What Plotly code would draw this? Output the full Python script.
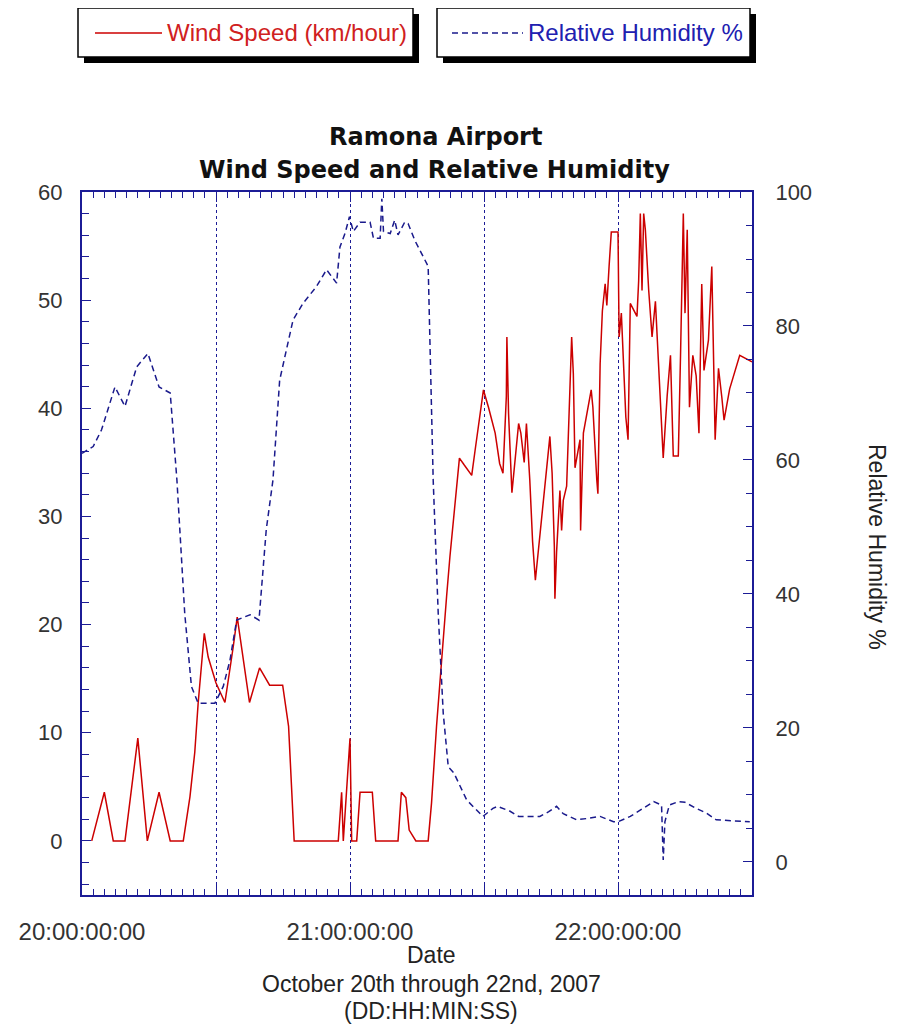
import plotly.graph_objects as go

# ---------------- data ----------------
# hours since 2007-10-20 00:00
wind_hours = [0.87, 2.0, 2.8, 3.85, 5.0, 5.85, 6.9, 7.9, 9.07, 9.67, 10.1, 10.4, 10.95, 11.3,
              12.0, 12.8, 13.55, 13.9, 15.0, 15.9, 16.8, 17.97, 18.5, 19.0, 22.95, 23.25,
              23.4, 23.85, 24.0, 24.15, 24.6, 24.9, 26.0, 26.3, 28.3, 28.6, 29.0, 29.3,
              29.9, 31.0, 31.3, 31.75, 32.05, 32.35, 32.65, 32.95, 33.4, 33.8, 34.2, 34.9,
              35.2, 35.95, 36.4, 37.0, 37.4, 37.7, 38.0, 38.05, 38.2, 38.5, 39.1, 39.3,
              39.6, 39.8, 40.1, 40.35, 40.6, 40.95, 41.4, 41.55, 41.9, 42.1, 42.3, 42.35,
              42.5, 42.8, 42.95, 43.1, 43.4, 43.85, 44.0, 44.15, 44.6, 44.65, 44.9, 45.6,
              45.75, 46.1, 46.2, 46.4, 46.6, 46.85, 47.0, 47.2, 47.4, 48.0, 48.1, 48.3,
              48.7, 48.9, 49.1, 49.7, 49.85, 50.0, 50.15, 50.3, 50.45, 50.75, 51.05, 51.35,
              51.6, 52.05, 52.4, 52.7, 52.95, 53.4, 53.6, 53.85, 54.0, 54.2, 54.4, 54.7,
              55.0, 55.25, 55.5, 55.7, 56.1, 56.4, 56.7, 57.0, 57.3, 57.5, 58.0, 58.9, 60.0]
wind_speed = [0, 4.5, 0, 0, 9.5, 0, 4.5, 0, 0, 4.1, 8.2, 12.7, 19.2, 17.0,
              14.6, 12.8, 18.0, 20.7, 12.8, 16.0, 14.4, 14.4, 10.6, 0, 0, 4.5,
              0, 7.8, 9.5, 0, 0, 4.5, 4.5, 0, 0, 4.5, 4.0, 1.0,
              0, 0, 3.5, 10.6, 14.9, 19.2, 22.6, 26.3, 30.9, 35.4, 34.8, 33.8,
              36.1, 41.7, 40.1, 37.7, 34.9, 34.0, 41.1, 46.6, 39.5, 32.2, 38.6, 37.7,
              35.0, 38.6, 33.4, 27.7, 24.1, 27.8, 32.1, 34.0, 37.4, 34.0, 27.2, 22.4,
              26.7, 32.4, 28.7, 31.5, 32.8, 46.6, 43.2, 34.5, 37.1, 28.7, 37.7, 41.7,
              40.1, 33.4, 32.1, 44.1, 49.0, 51.5, 49.5, 53.1, 56.3, 56.3, 46.6, 48.8,
              39.2, 37.1, 49.7, 48.5, 51.8, 58.0, 50.9, 58.0, 56.5, 50.9, 46.6, 49.9,
              44.3, 35.4, 41.1, 44.9, 35.6, 35.6, 44.9, 58.0, 48.8, 56.5, 40.1, 44.9,
              43.0, 37.7, 51.5, 43.5, 46.3, 53.1, 37.1, 43.7, 41.0, 38.9, 41.8, 44.9, 44.3]

rh_hours = [0, 1.0, 1.75, 2.95, 3.85, 4.9, 5.9, 6.9, 7.9, 8.5, 9.2, 9.8, 10.4, 11.9,
            12.65, 13.25, 13.85, 15.05, 15.85, 16.5, 17.1, 17.7, 18.9, 19.8, 21.0, 21.9,
            22.8, 23.1, 23.55, 23.95, 24.3, 24.9, 25.8, 26.1, 26.7, 26.85, 27.0, 27.6,
            28.0, 28.3, 28.9, 29.2, 29.8, 30.7, 31.0, 31.45, 31.9, 32.35, 32.8, 33.3,
            34.45, 35.9, 36.8, 37.2, 38.3, 39.1, 41.0, 41.8, 42.5, 43.1, 44.3, 45.3,
            46.4, 47.6, 48.0, 49.1, 50.1, 51.2, 51.9, 52.05, 52.2, 52.6, 53.4, 54.0,
            55.0, 55.9, 56.8, 59.8]
rh_values = [61, 62, 64.5, 70.9, 68.0, 73.9, 75.9, 70.9, 70.0, 57, 37.1, 26.2, 23.7, 23.7,
             26.2, 30.1, 36.1, 36.9, 36.1, 49.6, 57.0, 71.9, 80.9, 83.4, 85.9, 88.4,
             86.4, 91.8, 93.8, 96.3, 94.1, 95.5, 95.5, 93.1, 93.1, 99.0, 94.1, 93.8,
             95.8, 93.6, 95.5, 95.3, 92.8, 89.9, 88.9, 57, 37.1, 22.2, 14.2, 13.3,
             9.25, 6.8, 8.0, 8.3, 7.6, 6.8, 6.8, 7.5, 8.3, 7.2, 6.3, 6.5,
             6.8, 6.0, 6.0, 6.8, 7.8, 9.0, 8.5, 0.3, 6.0, 8.5, 9.0, 8.9,
             8.0, 7.3, 6.3, 6.0]

# tick labels (every 12 h major tick; labelled at each day)
x_tick_labels = {"0": "20:00:00:00", "12": " ", "24": "21:00:00:00", "36": " ",
                 "48": "22:00:00:00", "60": " "}

# ---------------- style ----------------
# positions measured in the reference screenshot (page pixels)
L, R, T, B = 82, 752, 192, 895
OFF = 8                      # default page margin of the browser body
W, H = 905 - OFF, 1028 - OFF
AX = "#1c1c96"
RED = "#cc0000"
BLUE = "#1a1a8c"
FONT = "Liberation Sans, Arial, sans-serif"


def px(x):
    return (x - L) / (R - L)


def py(y):
    return (B - y) / (B - T)


fig = go.Figure()
fig.add_trace(go.Scatter(x=wind_hours, y=wind_speed, mode="lines",
                         line=dict(color=RED, width=1.5), yaxis="y",
                         name="Wind Speed (km/hour)"))
fig.add_trace(go.Scatter(x=rh_hours, y=rh_values, mode="lines",
                         line=dict(color=BLUE, width=1.5, dash="6px,4px"), yaxis="y2",
                         name="Relative Humidity %"))

fig.update_layout(
    width=W, height=H, autosize=False,
    margin=dict(l=L - OFF, r=W - (R - OFF), t=T - OFF, b=H - (B - OFF), pad=0),
    paper_bgcolor="white", plot_bgcolor="white",
    showlegend=False,
    font=dict(family=FONT, color="#333333"),
    xaxis=dict(range=[0, 60], tickmode="linear", tick0=0, dtick=12,
               labelalias=x_tick_labels,
               ticks="inside", ticklen=10, tickwidth=1, tickcolor=AX,
               showline=True, linecolor=AX, linewidth=2, mirror="ticks",
               showgrid=True, gridcolor=AX, griddash="dot", gridwidth=1,
               zeroline=False, tickfont=dict(size=24, color="#333333"),
               ticklabelstandoff=14,
               minor=dict(dtick=1, tick0=0, ticks="inside", ticklen=6, tickcolor=AX,
                          tickwidth=1, showgrid=False)),
    yaxis=dict(range=[-5, 60], tickmode="linear", tick0=0, dtick=10,
               ticks="inside", ticklen=9, tickwidth=1, tickcolor=AX,
               showline=True, linecolor=AX, linewidth=2, showgrid=False, zeroline=False,
               tickfont=dict(size=22, color="#333333"), ticklabelstandoff=13,
               minor=dict(dtick=2, tick0=0, ticks="inside", ticklen=7, tickcolor=AX,
                          tickwidth=1, showgrid=False)),
    yaxis2=dict(range=[-4.93, 100], overlaying="y", side="right", anchor="x",
                tickmode="linear", tick0=0, dtick=20,
                ticks="inside", ticklen=9, tickwidth=1, tickcolor=AX,
                showline=True, linecolor=AX, linewidth=2, showgrid=False, zeroline=False,
                tickfont=dict(size=22, color="#333333"), ticklabelstandoff=17,
                minor=dict(dtick=5, tick0=0, ticks="inside", ticklen=6, tickcolor=AX,
                           tickwidth=1, showgrid=False)),
)

ann = []
# titles
ann.append(dict(text="<b>Ramona Airport</b>", x=px(435), y=py(137), xref="paper", yref="paper",
                showarrow=False, xanchor="center", yanchor="middle",
                font=dict(family="DejaVu Sans, Verdana", size=24, color="#111111")))
ann.append(dict(text="<b>Wind Speed and Relative Humidity</b>", x=px(434), y=py(170),
                xref="paper", yref="paper", showarrow=False, xanchor="center", yanchor="middle",
                font=dict(family="DejaVu Sans, Verdana", size=24, color="#111111")))
# x-axis title lines
for txt, yy in [("Date", 955), ("October 20th through 22nd, 2007", 984),
                ("(DD:HH:MIN:SS)", 1011)]:
    ann.append(dict(text=txt, x=px(431), y=py(yy), xref="paper", yref="paper",
                    showarrow=False, xanchor="center", yanchor="middle",
                    font=dict(family=FONT, size=23, color="#222222")))
# right axis title
ann.append(dict(text="Relative Humidity %", x=px(877), y=py(547), xref="paper", yref="paper",
                showarrow=False, textangle=90, xanchor="center", yanchor="middle",
                font=dict(family=FONT, size=23, color="#222222")))
# legend texts
ann.append(dict(text="Wind Speed (km/hour)", x=px(165), y=py(33), xref="paper", yref="paper",
                showarrow=False, xanchor="left", yanchor="middle",
                font=dict(family=FONT, size=24, color="#d02020")))
ann.append(dict(text="Relative Humidity %", x=px(526), y=py(33), xref="paper", yref="paper",
                showarrow=False, xanchor="left", yanchor="middle",
                font=dict(family=FONT, size=24, color="#2020b0")))

shapes = []
for (x0, x1) in [(78, 413), (437, 750)]:
    shapes.append(dict(type="rect", xref="paper", yref="paper",
                       x0=px(x0 + 6), x1=px(x1 + 6), y0=py(8 + 6), y1=py(57 + 6),
                       fillcolor="black", line=dict(width=0)))
    shapes.append(dict(type="rect", xref="paper", yref="paper",
                       x0=px(x0), x1=px(x1), y0=py(8), y1=py(57),
                       fillcolor="white", line=dict(color="black", width=1.5)))
shapes.append(dict(type="line", xref="paper", yref="paper", x0=px(95), x1=px(162),
                   y0=py(33), y1=py(33), line=dict(color=RED, width=1.5)))
shapes.append(dict(type="line", xref="paper", yref="paper", x0=px(452), x1=px(523),
                   y0=py(33), y1=py(33), line=dict(color=BLUE, width=1.5, dash="6px,4px")))

fig.update_layout(annotations=ann, shapes=shapes)
fig.write_html("out.html")
